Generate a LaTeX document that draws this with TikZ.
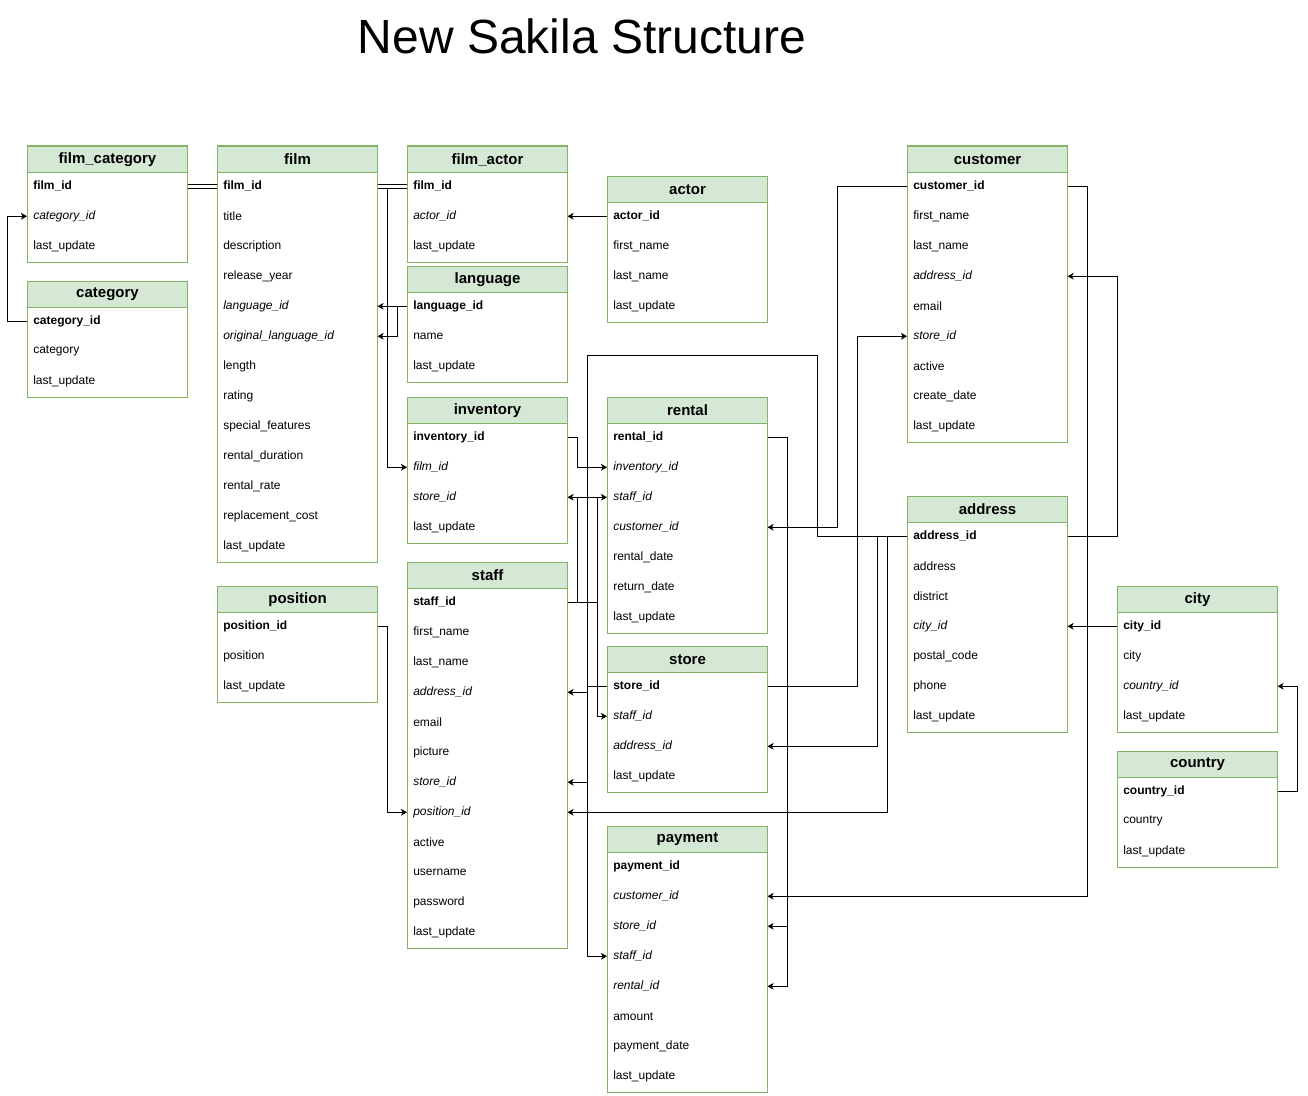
\documentclass[tikz,border=0pt]{standalone}
\usepackage{fontspec}
\setmainfont{Liberation Sans}
\usetikzlibrary{arrows.meta}

\definecolor{headfill}{HTML}{D5E8D4}
\definecolor{headline}{HTML}{82B366}

\tikzset{
    tabhead/.style={draw=headline, fill=headfill, line width=0.75pt, anchor=north west,
        minimum width=120pt, minimum height=19.5pt, inner sep=0pt,
        font=\fontsize{11.25}{13}\selectfont\bfseries},
    tabrow/.style={anchor=north west, minimum height=22.5pt, text width=111pt,
        inner xsep=4.5pt, inner ysep=0pt, align=left, font=\fontsize{9}{11}\selectfont},
    tabline/.style={draw=headline, line width=0.75pt},
    link/.style={line width=0.75pt},
    fk/.style={link, -{Stealth[length=4.5pt, width=5pt, inset=1.2pt]}},
    pair/.style={link, double, double distance=2.25pt}
}

\newcommand\dbtable[5]{%
    \node[tabhead] (#1) at (#2,#3) {#4};
    \foreach \field [count=\i] in {#5}{
        \node[tabrow] (#1-\i) at (#2,#3+25+30*\i-30) {\field};
        \xdef\nrows{\i}
    }
    \draw[tabline] (#2,#3) rectangle (#2+160,#3+26+30*\nrows);
}

\begin{document}
\begin{tikzpicture}[x=0.75pt, y=-0.75pt]
        \useasboundingbox (0,0) rectangle (1308,1095);
        \node (title) at (582,36) {\fontsize{36}{40}\selectfont New Sakila Structure};

        \dbtable{filmcategory}{27}{146}{film\_category}{\textbf{film\_id}, \textit{category\_id}, last\_update}
        \dbtable{category}{27}{281}{category}{\textbf{category\_id}, category, last\_update}
        \dbtable{film}{217}{146}{film}{\textbf{film\_id}, title, description, release\_year,
            \textit{language\_id}, \textit{original\_language\_id}, length, rating, special\_features,
            rental\_duration, rental\_rate, replacement\_cost, last\_update}
        \dbtable{filmactor}{407}{146}{film\_actor}{\textbf{film\_id}, \textit{actor\_id}, last\_update}
        \dbtable{language}{407}{266}{language}{\textbf{language\_id}, name, last\_update}
        \dbtable{actor}{607}{176}{actor}{\textbf{actor\_id}, first\_name, last\_name, last\_update}
        \dbtable{inventory}{407}{397}{inventory}{\textbf{inventory\_id}, \textit{film\_id},
            \textit{store\_id}, last\_update}
        \dbtable{rental}{607}{397}{rental}{\textbf{rental\_id}, \textit{inventory\_id}, \textit{staff\_id},
            \textit{customer\_id}, rental\_date, return\_date, last\_update}
        \dbtable{staff}{407}{562}{staff}{\textbf{staff\_id}, first\_name, last\_name, \textit{address\_id},
            email, picture, \textit{store\_id}, \textit{position\_id}, active, username, password, last\_update}
        \dbtable{position}{217}{586}{position}{\textbf{position\_id}, position, last\_update}
        \dbtable{store}{607}{646}{store}{\textbf{store\_id}, \textit{staff\_id}, \textit{address\_id}, last\_update}
        \dbtable{payment}{607}{826}{payment}{\textbf{payment\_id}, \textit{customer\_id}, \textit{store\_id},
            \textit{staff\_id}, \textit{rental\_id}, amount, payment\_date, last\_update}
        \dbtable{customer}{907}{146}{customer}{\textbf{customer\_id}, first\_name, last\_name,
            \textit{address\_id}, email, \textit{store\_id}, active, create\_date, last\_update}
        \dbtable{address}{907}{496}{address}{\textbf{address\_id}, address, district, \textit{city\_id},
            postal\_code, phone, last\_update}
        \dbtable{city}{1117}{586}{city}{\textbf{city\_id}, city, \textit{country\_id}, last\_update}
        \dbtable{country}{1117}{751}{country}{\textbf{country\_id}, country, last\_update}

        \coordinate (loopr) at (817,355);
        \coordinate (loopl) at (587,355);

        \draw[pair] (filmcategory-1.east) -- (film-1.west);
        \draw[pair] (film-1.east) -- (filmactor-1.west);
        \draw[fk] ([yshift=-1.5pt]film-1.east) -- ++(10,0) |- (inventory-2.west);
        \draw[fk] (category-1.west) -- ++(-20,0) |- (filmcategory-2.west);
        \draw[fk] (actor-1.west) -- (filmactor-2.east);
        \draw[fk] (language-1.west) -- (film-5.east);
        \draw[fk] (language-1.west) -- ++(-10,0) |- (film-6.east);
        \draw[fk] (inventory-1.east) -- ++(10,0) |- (rental-2.west);
        \draw[fk] (store-1.west) -- ++(-10,0) |- (inventory-3.east);
        \draw[fk] (staff-1.east) -- ++(10,0) |- (rental-3.west);
        \draw[fk] (staff-1.east) -- ++(30,0) |- (store-2.west);
        \draw[fk] (staff-1.east) -- ++(20,0) |- (payment-4.west);
        \draw[fk] (store-1.west) -- ++(-20,0) |- (staff-7.east);
        \draw[fk] (address-1.west) -| (loopr) -- (loopl) |- (staff-4.east);
        \draw[fk] (address-1.west) -- ++(-30,0) |- (store-3.east);
        \draw[fk] (address-1.west) -- ++(-20,0) |- (staff-8.east);
        \draw[fk] (address-1.east) -- ++(50,0) |- (customer-4.east);
        \draw[fk] (customer-1.west) -- ++(-70,0) |- (rental-4.east);
        \draw[fk] (customer-1.east) -- ++(20,0) |- (payment-2.east);
        \draw[fk] (store-1.east) -- ++(90,0) |- (customer-6.west);
        \draw[fk] (rental-1.east) -- ++(20,0) |- (payment-5.east);
        \draw[fk] (rental-1.east) -- ++(20,0) |- (payment-3.east);
        \draw[fk] (city-1.west) -- (address-4.east);
        \draw[fk] (country-1.east) -- ++(20,0) |- (city-3.east);
        \draw[fk] (position-1.east) -- ++(10,0) |- (staff-8.west);
    \end{tikzpicture}
\end{document}
